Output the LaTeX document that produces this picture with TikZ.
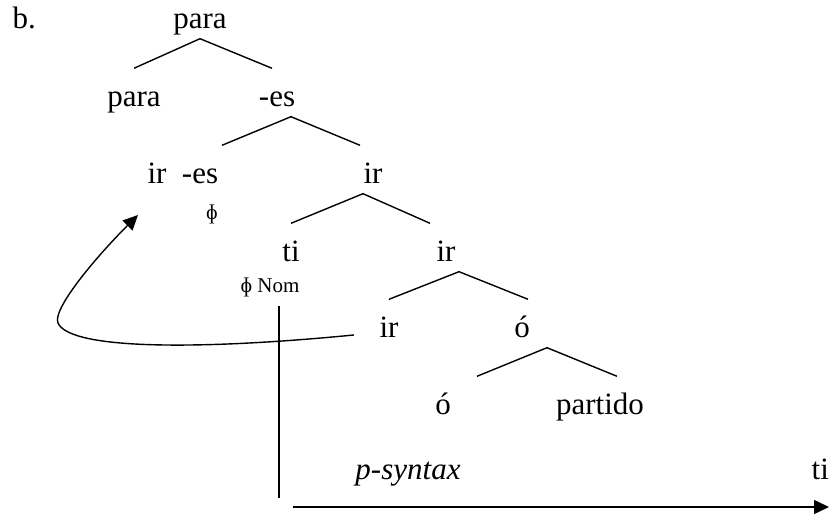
\documentclass[tikz,border=0pt]{standalone}
\usepackage{fontspec}
\setmainfont{Liberation Serif}
\usetikzlibrary{arrows.meta,calc}

\tikzset{
  >={Triangle[length=7.5pt,width=7pt]},   % default arrow tip
  word/.style={font=\fontsize{15.5}{18}\selectfont, inner sep=0pt,
    text height=19pt, text depth=4.5pt, anchor=base},
  feat/.style={font=\fontsize{10.5}{12}\selectfont, inner sep=0pt}
}

\begin{document}
\begin{tikzpicture}[x=0.5pt,y=-0.5pt,line width=0.7pt]
	\useasboundingbox (0,0) rectangle (829,517);
	% words
	\node[word,anchor=base west] (ex) at (12,29) {b.};
	\node[word] (para0) at (200,29) {para};
	\node[word] (para1) at (134,107) {para};
	\node[word] (es1) at (277,107) {-es};
	\node[word] (irL) at (157,184) {ir};
	\node[word] (esL) at (200,184) {-es};
	\node[feat] (phiA) at (212,214) {ɸ};
	\node[word] (ir2) at (373,184) {ir};
	\node[word] (ti) at (291,262) {ti};
	\node[feat,anchor=base] (nom) at (270,293) {ɸ Nom};
	\node[word] (ir3) at (446,262) {ir};
	\node[word] (ir4) at (389,338) {ir};
	\node[word] (o1) at (522,338) {ó};
	\node[word] (o2) at (443,415) {ó};
	\node[word] (partido) at (600,415) {partido};
	\node[word] (psyn) at (408,480) {\itshape p-syntax};
	\node[word,anchor=base west] (tiR) at (811,480) {ti};

	% branches
	\draw (para1.north) -- (para0.south) -- ($(es1.north)+(-5,0)$);
	\draw ($(esL.north)+(22,0)$) -- ($(es1.south)+(14,0)$) -- ($(ir2.north)+(-13,0)$);
	\draw (ti.north) -- ($(ir2.south)+(-10,0)$) -- ($(ir3.north)+(-16,0)$);
	\draw (ir4.north) -- ($(ir3.south)+(13,0)$) -- ($(o1.north)+(6,0)$);
	\draw ($(o2.north)+(34,0)$) -- ($(o1.south)+(25,0)$) -- ($(partido.north)+(17,0)$);

	% movement of ir
	\draw[->] ($(ir4.base west)+(-25,-3)$)
			.. controls (200,350) and (70,350) .. (58,323)
			.. controls (52,309.5) and (95,258) .. ($(irL.base)+(-19,31)$);

	% time line
	\coordinate (vtop) at (279,306);
	\coordinate (vbot) at (279,498);
	\draw (vtop) -- (vbot);
	\coordinate (tstart) at (293,507);
	\coordinate (tend) at (829,507);
	\draw[->] (tstart) -- (tend);
\end{tikzpicture}
\end{document}
